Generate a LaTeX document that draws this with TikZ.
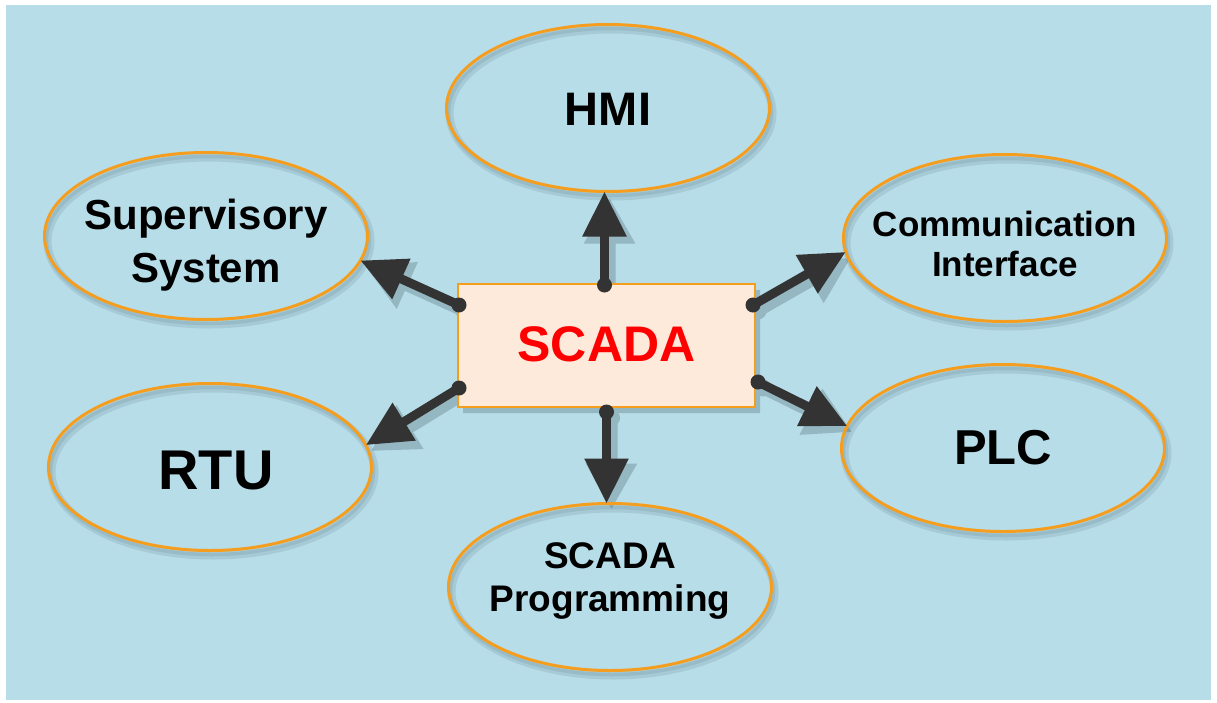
\documentclass[tikz,border=0pt]{standalone}
\usepackage{fontspec}
\setmainfont{Liberation Sans}
\usetikzlibrary{shapes.geometric,arrows.meta,calc}
\definecolor{bgblue}{HTML}{B7DDE8}
\definecolor{orng}{HTML}{F59D1E}
\definecolor{boxfill}{HTML}{FDEADA}
\definecolor{arr}{HTML}{333333}
\definecolor{scred}{HTML}{FF0000}
\definecolor{shadowcol}{HTML}{3A5560}
\pgfdeclarelayer{bgl}
\pgfdeclarelayer{shd}
\pgfsetlayers{bgl,shd,main}
\begin{document}
\begin{tikzpicture}[x=1pt,y=-1pt,
  bubble/.style={ellipse, draw=orng, line width=3pt, minimum width=323pt, minimum height=167pt,
    inner sep=0pt, outer sep=0pt},
  txt/.style={align=center, text=black, inner sep=0pt},
  core/.style={rectangle, draw=orng, line width=2.5pt, fill=boxfill, minimum width=297pt,
    minimum height=123pt, inner sep=0pt, outer sep=0pt, text=scred,
    font={\fontsize{50}{60}\selectfont\bfseries}},
  link/.style={draw=arr, line width=9pt, -{Triangle[length=45pt,width=42pt]}},
  linkshade/.style={draw=shadowcol, line width=12pt, -{Triangle[length=46pt,width=48pt]}},
  dot/.style={fill=arr},
]
% background
\begin{pgfonlayer}{bgl}
\path[use as bounding box] (0,0) rectangle (1217,702);
\fill[white] (0,0) rectangle (1217,702);
\fill[bgblue] (6,5) rectangle (1211,700);
\end{pgfonlayer}

% nodes
\node[bubble, label={[txt, font={\fontsize{47}{56}\selectfont\bfseries}, yshift=-1pt]center:HMI}] (hmi) at (608,108) {};
\node[bubble, label={[txt, font={\fontsize{42}{53}\selectfont\bfseries}, yshift=-9pt]center:Supervisory\\System}] (sup) at (206,236) {};
\node[bubble, label={[txt, font={\fontsize{35}{40}\selectfont\bfseries}, yshift=-6pt]center:Communication\\Interface}] (comm) at (1005,238) {};
\node[bubble, label={[txt, font={\fontsize{56}{66}\selectfont\bfseries}, xshift=6pt, yshift=-3pt]center:RTU}] (rtu) at (210,467) {};
\node[bubble, label={[txt, font={\fontsize{49}{58}\selectfont\bfseries}]center:PLC}] (plc) at (1003,448) {};
\node[bubble, label={[txt, font={\fontsize{37}{43}\selectfont\bfseries}, yshift=6pt]center:SCADA\\Programming}] (prog) at (610,587) {};
\node[core] (box) at (606.5,345.5) {\raisebox{2pt}{SCADA}};

% connector start points
\coordinate (pUp) at ($(box.north)+(-2,1)$);
\coordinate (pDn) at ($(box.south)+(0,5)$);
\coordinate (pUL) at ($(box.north west)+(1,21)$);
\coordinate (pLL) at ($(box.south west)+(1,-19)$);
\coordinate (pUR) at ($(box.north east)+(-2,21)$);
\coordinate (pLR) at ($(box.south east)+(3,-25)$);
\coordinate (tUp) at (hmi.south -| pUp);
\coordinate (tDn) at (prog.north -| pDn);

% shadows
\begin{pgfonlayer}{shd}
\begin{scope}[transparency group, opacity=0.13]
  \foreach \n in {hmi,sup,comm,rtu,plc,prog}{
    \draw[shadowcol, line width=8pt] ([shift={(3,5)}]\n.center) ellipse [x radius=161.5pt, y radius=83.5pt];
  }
\end{scope}
\begin{scope}[transparency group, opacity=0.12]
  \foreach \n in {hmi,sup,comm,rtu,plc,prog}{
    \draw[shadowcol, line width=3.5pt] ([shift={(2,4)}]\n.center) ellipse [x radius=161.5pt, y radius=83.5pt];
  }
\end{scope}
\begin{scope}[transparency group, opacity=0.28, transform canvas={xshift=5pt,yshift=-6pt}]
  \fill[shadowcol] (box.north west) rectangle (box.south east);
  \draw[linkshade] (pUp) -- (tUp);
  \draw[linkshade] (pDn) -- (tDn);
  \draw[linkshade] (pUL) -- (sup.-9);
  \draw[linkshade] (pLL) -- (rtu.8);
  \draw[linkshade] (pUR) -- (comm.185);
  \draw[linkshade] (pLR) -- (plc.172);
  \foreach \p in {pUp,pDn,pUL,pLL,pUR,pLR}{\fill[shadowcol] (\p) circle (8.5pt);}
\end{scope}
\end{pgfonlayer}

% connectors
\draw[link] (pUp) -- (tUp);
\draw[link] (pDn) -- (tDn);
\draw[link] (pUL) -- (sup.-9);
\draw[link] (pLL) -- (rtu.8);
\draw[link] (pUR) -- (comm.185);
\draw[link] (pLR) -- (plc.172);
\foreach \p in {pUp,pDn,pUL,pLL,pUR,pLR}{\fill[dot] (\p) circle (7.5pt);}
\end{tikzpicture}
\end{document}
